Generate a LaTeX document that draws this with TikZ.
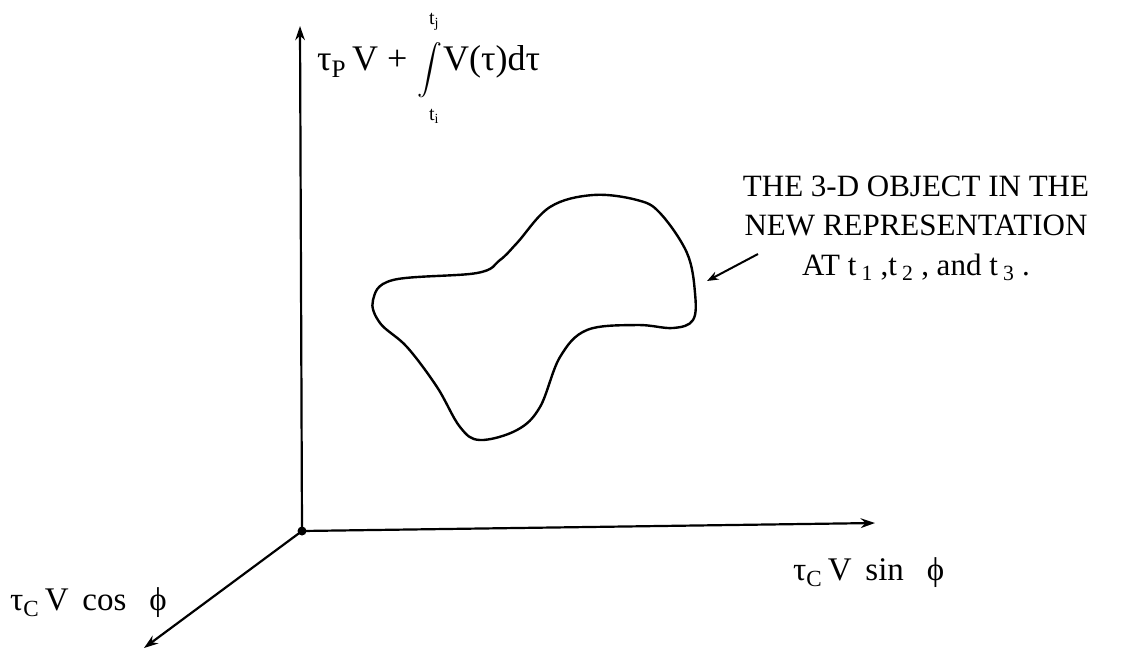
\documentclass[tikz,border=0pt]{standalone}
\usepackage{exscale}
\usepackage{fontspec}
\setmainfont{Liberation Serif}
\usetikzlibrary{
  arrows.meta,
  positioning
}
\tikzset{
  axis/.style={-{Stealth[length=5mm,width=3.4mm]}, line width=2.2pt, draw=black},
  pointer/.style={-{Stealth[length=4mm,width=3mm]}, line width=2pt, draw=black},
  blob/.style={line width=2.4pt, draw=black},
  lbl/.style={font=\fontsize{33}{38}\selectfont, inner sep=0pt},
  formula/.style={font=\fontsize{36}{40}\selectfont, inner sep=0pt},
  limit/.style={font=\fontsize{20}{20}\selectfont, inner sep=0pt},
  note/.style={font=\fontsize{31}{39.5}\selectfont, align=center, inner sep=0pt}
}

\begin{document}
\begin{tikzpicture}[x=1pt, y=-1pt]

\useasboundingbox (0,0) rectangle (1123,651);

% --- Axes ---
\coordinate (origin) at (302,531);
\coordinate (ytip) at (300,26);
\coordinate (xtip) at (875,523);
\coordinate (ztip) at (144,648);

\draw[axis] (origin) -- (ytip);
\draw[axis] (origin) -- (xtip);
\draw[axis] (origin) -- (ztip);
\fill (origin) circle (4.5pt);

% --- Axis labels ---
\node[formula, anchor=base west] (ylabel) at (317,70) {τ\textsubscript{P}\,V +};
\node[inner sep=0pt, font=\fontsize{30}{30}\selectfont] (intsign) at (430,70) {$\displaystyle\int$};
\node[limit] (upper) at (434,22) {t\textsubscript{j}};
\node[limit] (lower) at (434,116) {t\textsubscript{i}};
\node[formula, anchor=base west] (integrand) at (443,70) {V(τ)dτ};
\node[lbl, anchor=base west] (xlabel) at (793,580) {τ\textsubscript{C}\,V \,sin \;\,ϕ};
\node[lbl, anchor=base west] (zlabel) at (10,610) {τ\textsubscript{C}\,V \,cos \;\,ϕ};

% --- The object ---
\draw[blob] plot[smooth cycle, tension=0.6] coordinates {
  (593,195) (550,207) (517,243) (500,260) (477,273) (393,280)
  (373,300) (380,323) (407,347) (437,387) (460,427) (480,440)
  (517,430) (540,407) (560,357) (587,330) (637,325) (673,328)
  (693,320) (695,293) (687,253) (660,213) (637,200)
};
\coordinate (object) at (707,281);

% --- Annotation ---
\node[note, anchor=base] (caption) at (916,275) {%
  THE 3-D OBJECT IN THE\\
  NEW REPRESENTATION\\
  AT t\,\textsubscript{1} ,t\,\textsubscript{2} , and t\,\textsubscript{3} .};
\coordinate (captail) at (758,254);
\draw[pointer] (captail) -- (object);

\end{tikzpicture}
\end{document}
